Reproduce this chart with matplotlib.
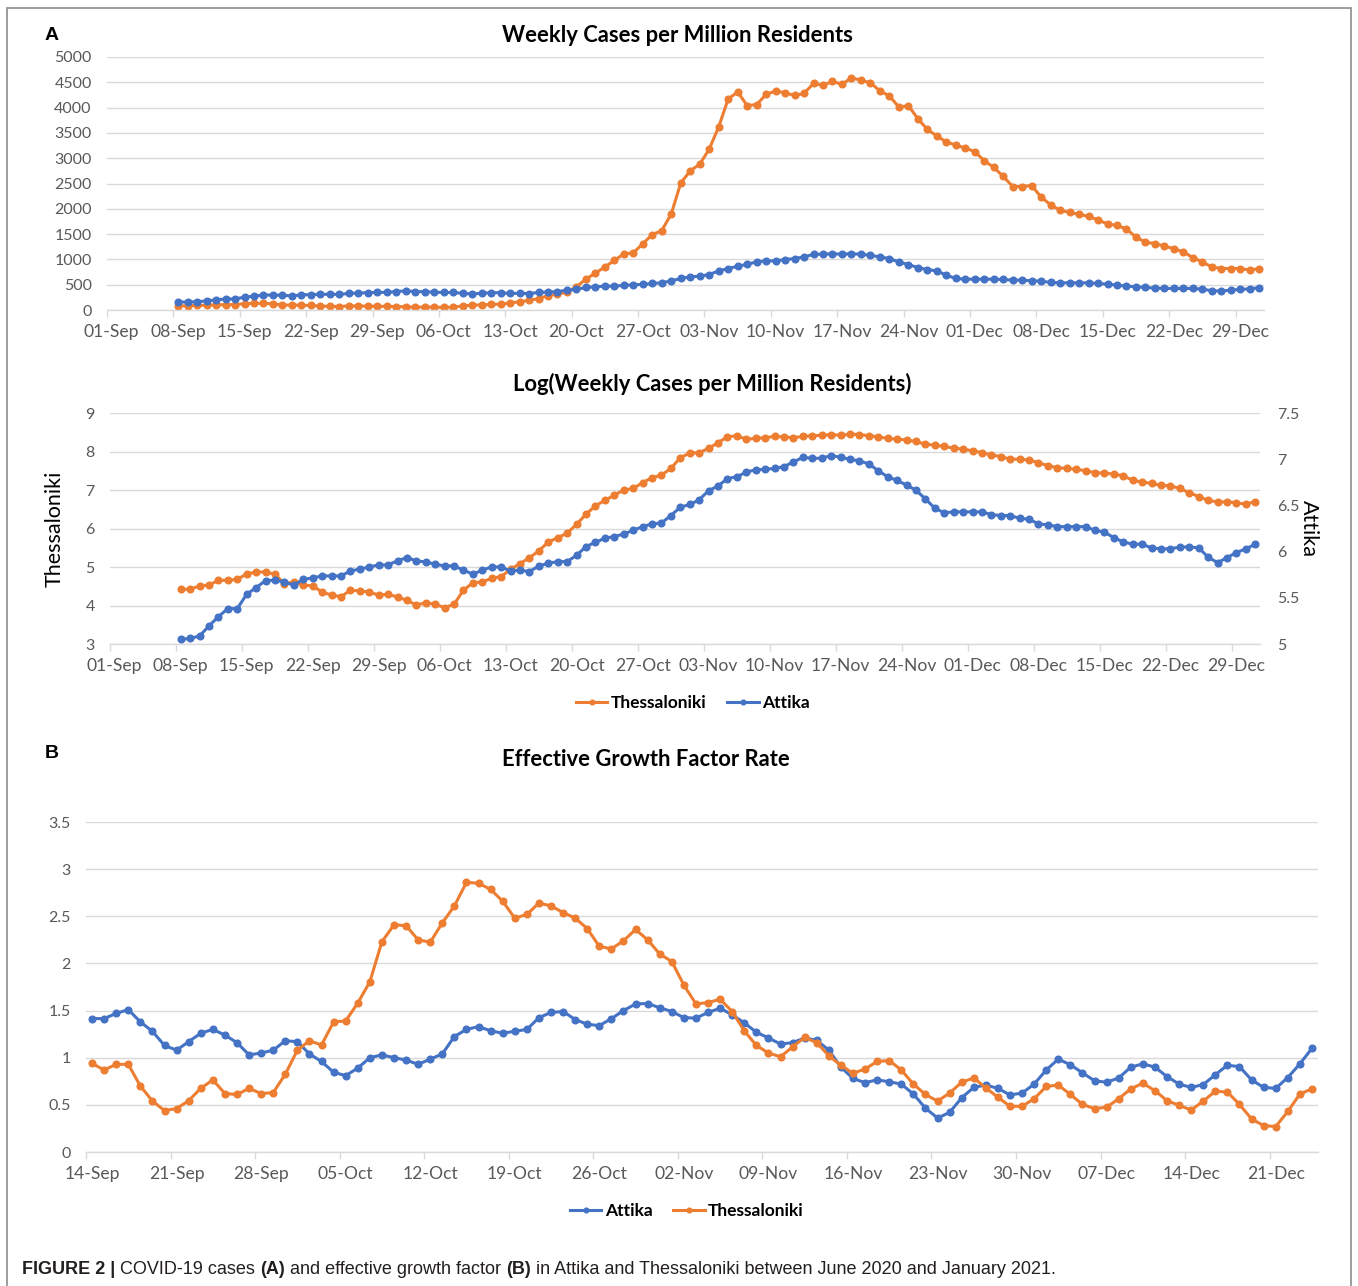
"""
COVID-19 weekly cases / log cases / effective growth factor,
Attika vs Thessaloniki (Sep-Dec 2020), rebuilt in matplotlib.
"""

import matplotlib
matplotlib.use("Agg")
import matplotlib.pyplot as plt
import matplotlib.dates as mdates
from matplotlib.patches import Rectangle
import pandas as pd

W, H = 1358, 1286

# ---------------------------------------------------------------- data
# panel A: one value per day, 08-Sep .. 31-Dec
dates_a = pd.date_range("2020-09-08", "2020-12-31", freq="D")
ticks_a = pd.date_range("2020-09-01", "2020-12-29", freq="7D")

thess_weekly = [
    83, 83, 91, 93, 105, 105, 108, 124, 130, 130, 123, 97, 100, 93, 91, 77, 72, 69, 81, 80,
    77, 72, 73, 68, 63, 55, 59, 56, 52, 56, 81, 98, 100, 111, 116, 140, 162, 189, 226, 284,
    317, 350, 460, 610, 730, 850, 980, 1110, 1130, 1310, 1490, 1570, 1900, 2510, 2750, 2880,
    3180, 3620, 4170, 4310, 4040, 4060, 4260, 4330, 4290, 4240, 4280, 4480, 4440, 4520, 4460,
    4590, 4540, 4490, 4330, 4230, 4010, 4040, 3780, 3570, 3440, 3320, 3260, 3200, 3130, 2950,
    2820, 2640, 2440, 2440, 2460, 2230, 2080, 1970, 1930, 1890, 1850, 1780, 1700, 1670, 1600,
    1440, 1340, 1310, 1265, 1210, 1150, 1035, 950, 850, 820, 820, 820, 790, 820,
]
attika_weekly = [
    156, 158, 162, 180, 200, 218, 218, 254, 273, 295, 296, 291, 280, 299, 304, 310, 310, 310,
    327, 334, 342, 349, 349, 365, 378, 365, 361, 352, 346, 346, 330, 316, 330, 342, 342, 327,
    330, 325, 346, 356, 362, 393, 406, 446, 459, 472, 472, 485, 498, 505, 524, 537, 577, 623,
    655, 668, 701, 773, 819, 865, 904, 950, 970, 970, 996, 1016, 1048, 1101, 1101, 1114, 1101,
    1114, 1101, 1081, 1048, 1016, 950, 898, 839, 799, 773, 688, 623, 609, 609, 609, 609, 603,
    590, 590, 577, 570, 544, 537, 537, 537, 537, 524, 511, 491, 472, 459, 446, 432, 426, 426,
    426, 426, 413, 380, 374, 393, 406, 419, 439,
]
thess_log = [
    4.42, 4.42, 4.51, 4.53, 4.655, 4.655, 4.68, 4.82, 4.87, 4.87, 4.81, 4.57, 4.61, 4.53, 4.51,
    4.35, 4.27, 4.23, 4.395, 4.38, 4.35, 4.27, 4.29, 4.22, 4.135, 4.01, 4.075, 4.03, 3.945, 4.03,
    4.40, 4.59, 4.61, 4.71, 4.75, 4.94, 5.09, 5.24, 5.42, 5.65, 5.76, 5.88, 6.11, 6.37, 6.59,
    6.73, 6.865, 7.00, 7.04, 7.19, 7.32, 7.385, 7.56, 7.84, 7.96, 7.97, 8.08, 8.23, 8.38, 8.41,
    8.32, 8.34, 8.36, 8.39, 8.38, 8.36, 8.39, 8.41, 8.42, 8.44, 8.42, 8.45, 8.44, 8.41, 8.38,
    8.34, 8.32, 8.30, 8.26, 8.19, 8.165, 8.13, 8.09, 8.06, 8.02, 7.97, 7.91, 7.87, 7.80, 7.80,
    7.78, 7.71, 7.63, 7.58, 7.56, 7.54, 7.50, 7.45, 7.44, 7.41, 7.37, 7.25, 7.21, 7.17, 7.12,
    7.11, 7.04, 6.93, 6.83, 6.73, 6.69, 6.69, 6.67, 6.63, 6.70,
]
attika_log = [
    5.05, 5.06, 5.087, 5.195, 5.296, 5.383, 5.383, 5.538, 5.61, 5.686, 5.69, 5.672, 5.636, 5.70,
    5.715, 5.737, 5.737, 5.737, 5.79, 5.81, 5.834, 5.856, 5.856, 5.90, 5.935, 5.90, 5.888, 5.863,
    5.845, 5.845, 5.80, 5.755, 5.80, 5.834, 5.834, 5.79, 5.798, 5.784, 5.845, 5.874, 5.892, 5.892,
    5.96, 6.055, 6.10, 6.145, 6.163, 6.19, 6.23, 6.27, 6.30, 6.31, 6.39, 6.48, 6.51, 6.56, 6.66,
    6.71, 6.79, 6.81, 6.86, 6.885, 6.89, 6.90, 6.92, 6.97, 7.02, 7.01, 7.01, 7.04, 7.02, 7.00,
    6.98, 6.95, 6.875, 6.81, 6.77, 6.72, 6.665, 6.57, 6.47, 6.42, 6.43, 6.43, 6.43, 6.43, 6.40,
    6.39, 6.39, 6.36, 6.35, 6.30, 6.29, 6.27, 6.27, 6.27, 6.27, 6.23, 6.21, 6.15, 6.105, 6.08,
    6.08, 6.04, 6.03, 6.03, 6.05, 6.05, 6.04, 5.94, 5.88, 5.935, 5.99, 6.03, 6.08,
]

# panel B: 14-Sep .. 24-Dec
dates_b = pd.date_range("2020-09-14", "2020-12-24", freq="D")
ticks_b = pd.date_range("2020-09-14", "2020-12-21", freq="7D")

attika_growth = [
    1.415, 1.415, 1.47, 1.51, 1.38, 1.28, 1.13, 1.08, 1.17, 1.26, 1.30, 1.24, 1.16, 1.03, 1.05,
    1.08, 1.18, 1.17, 1.04, 0.96, 0.845, 0.81, 0.89, 1.00, 1.03, 1.00, 0.975, 0.93, 0.985, 1.04,
    1.225, 1.30, 1.33, 1.285, 1.26, 1.28, 1.30, 1.425, 1.48, 1.49, 1.405, 1.355, 1.34, 1.415,
    1.50, 1.57, 1.575, 1.53, 1.49, 1.425, 1.42, 1.48, 1.525, 1.455, 1.37, 1.27, 1.21, 1.145,
    1.16, 1.21, 1.185, 1.08, 0.90, 0.78, 0.735, 0.765, 0.745, 0.72, 0.615, 0.465, 0.36, 0.42,
    0.575, 0.685, 0.71, 0.675, 0.605, 0.625, 0.72, 0.87, 0.985, 0.925, 0.84, 0.755, 0.74, 0.785,
    0.90, 0.935, 0.90, 0.80, 0.72, 0.685, 0.715, 0.82, 0.92, 0.905, 0.765, 0.685, 0.675, 0.79,
    0.935, 1.10,
]
thess_growth = [
    0.94, 0.87, 0.93, 0.93, 0.70, 0.54, 0.44, 0.46, 0.545, 0.675, 0.765, 0.62, 0.61, 0.675, 0.62,
    0.63, 0.825, 1.08, 1.18, 1.135, 1.38, 1.39, 1.58, 1.805, 2.23, 2.41, 2.40, 2.25, 2.225, 2.43,
    2.61, 2.86, 2.85, 2.785, 2.66, 2.48, 2.52, 2.64, 2.61, 2.54, 2.48, 2.37, 2.18, 2.155, 2.24,
    2.36, 2.25, 2.10, 2.02, 1.77, 1.57, 1.585, 1.62, 1.49, 1.285, 1.13, 1.05, 1.01, 1.115, 1.215,
    1.16, 1.02, 0.92, 0.835, 0.88, 0.96, 0.97, 0.87, 0.72, 0.61, 0.54, 0.625, 0.74, 0.785, 0.68,
    0.58, 0.485, 0.485, 0.565, 0.695, 0.71, 0.61, 0.505, 0.46, 0.475, 0.565, 0.67, 0.73, 0.65,
    0.545, 0.495, 0.445, 0.54, 0.645, 0.635, 0.505, 0.35, 0.28, 0.27, 0.43, 0.615, 0.67,
]

weekly_yticks = [0, 500, 1000, 1500, 2000, 2500, 3000, 3500, 4000, 4500, 5000]
log_left_yticks = [3, 4, 5, 6, 7, 8, 9]
log_right_yticks = [5, 5.5, 6, 6.5, 7, 7.5]
growth_yticks = [0, 0.5, 1, 1.5, 2, 2.5, 3, 3.5]

# ---------------------------------------------------------------- style
ORANGE = "#ED7D31"
BLUE = "#4472C4"
GRID = "#D9D9D9"
TICK = "#595959"
LINE = dict(lw=2.2, marker="o", ms=4.8)

plt.rcParams["font.family"] = ["Lato", "DejaVu Sans"]


def px_axes(fig, l, t, r, b):
    return fig.add_axes([l / W, 1 - b / H, (r - l) / W, (b - t) / H])


def ftext(fig, x, y, s, **kw):
    return fig.text(x / W, 1 - y / H, s, **kw)


def excel_style(ax, ticks, first, last, yticks, ylabels=None):
    half = pd.Timedelta(hours=12)
    ax.set_xlim(mdates.date2num(first - half), mdates.date2num(last + half))
    ax.set_xticks(mdates.date2num(ticks))
    ax.set_xticklabels([d.strftime("%d-%b") for d in ticks])
    ax.set_xticks(mdates.date2num(ticks - half), minor=True)
    ax.tick_params(axis="x", which="major", length=0, pad=10, labelsize=12.6, labelcolor=TICK)
    ax.tick_params(axis="x", which="minor", length=5, width=1, color=GRID)
    ax.set_ylim(yticks[0], yticks[-1])
    ax.set_yticks(yticks)
    if ylabels is not None:
        ax.set_yticklabels(ylabels)
    ax.tick_params(axis="y", length=0, pad=11, labelsize=11.5, labelcolor=TICK)
    ax.grid(axis="y", color=GRID, lw=1)
    ax.set_axisbelow(True)
    for side in ("top", "right", "left"):
        ax.spines[side].set_visible(False)
    ax.spines["bottom"].set_color(GRID)
    ax.spines["bottom"].set_linewidth(1)


fig = plt.figure(figsize=(W / 100, H / 100), dpi=100)

# ---------------------------------------------------------------- A: weekly cases
ax1 = px_axes(fig, 107, 57, 1264, 310)
ax1.plot(dates_a, thess_weekly, color=ORANGE, **LINE)
ax1.plot(dates_a, attika_weekly, color=BLUE, **LINE)
excel_style(ax1, ticks_a, ticks_a[0], dates_a[-1], weekly_yticks)
ftext(fig, 677, 36, "Weekly Cases per Million Residents", ha="center", va="center",
      fontsize=15.8, fontweight="bold")
ftext(fig, 52, 36, "A", ha="center", va="center", fontsize=14, fontweight="bold",
      family="Liberation Sans")

# ---------------------------------------------------------------- A: log cases
ax2 = px_axes(fig, 110, 413, 1260, 644)
l_th, = ax2.plot(dates_a, thess_log, color=ORANGE, **LINE)
excel_style(ax2, ticks_a, ticks_a[0], dates_a[-1], log_left_yticks)
ax2.set_ylabel("Thessaloniki", fontsize=15.5, labelpad=15)

ax2r = ax2.twinx()
l_at, = ax2r.plot(dates_a, attika_log, color=BLUE, **LINE)
ax2r.set_ylim(log_right_yticks[0], log_right_yticks[-1])
ax2r.set_yticks(log_right_yticks)
ax2r.set_yticklabels(["5", "5.5", "6", "6.5", "7", "7.5"])
ax2r.tick_params(axis="y", length=0, pad=12, labelsize=11.5, labelcolor=TICK)
for side in ("top", "right", "left", "bottom"):
    ax2r.spines[side].set_visible(False)
ax2r.set_ylabel("Attika", fontsize=15.5, rotation=270, labelpad=0, va="bottom")

ftext(fig, 712, 384, "Log(Weekly Cases per Million Residents)", ha="center", va="center",
      fontsize=15.8, fontweight="bold")
fig.legend([l_th, l_at], ["Thessaloniki", "Attika"], loc="center",
           bbox_to_anchor=(693 / W, 1 - 703 / H), ncol=2, frameon=False,
           prop={"weight": "bold", "size": 12.5}, handlelength=1.8,
           handletextpad=0.2, columnspacing=1.2, markerscale=0.7)

# ---------------------------------------------------------------- B: growth factor
ax3 = px_axes(fig, 86, 822, 1318, 1152)
b_at, = ax3.plot(dates_b, attika_growth, color=BLUE, **LINE)
b_th, = ax3.plot(dates_b, thess_growth, color=ORANGE, **LINE)
excel_style(ax3, ticks_b, dates_b[0], dates_b[-1], growth_yticks,
            ["0", "0.5", "1", "1.5", "2", "2.5", "3", "3.5"])
ftext(fig, 646, 760, "Effective Growth Factor Rate", ha="center", va="center",
      fontsize=15.8, fontweight="bold")
ftext(fig, 52, 754, "B", ha="center", va="center", fontsize=14, fontweight="bold",
      family="Liberation Sans")
fig.legend([b_at, b_th], ["Attika", "Thessaloniki"], loc="center",
           bbox_to_anchor=(687 / W, 1 - 1211 / H), ncol=2, frameon=False,
           prop={"weight": "bold", "size": 12.5}, handlelength=1.8,
           handletextpad=0.2, columnspacing=1.2, markerscale=0.7)

# ---------------------------------------------------------------- frame + caption
fig.add_artist(Rectangle((7 / W, -0.05), (1351 - 7) / W, 1.05 - 8 / H,
                         transform=fig.transFigure, fill=False,
                         edgecolor="#8C8C8C", lw=1.2))

caption = [
    ("FIGURE 2 |", "bold"),
    (" COVID-19 cases ", "normal"),
    ("(A)", "bold"),
    (" and effective growth factor ", "normal"),
    ("(B)", "bold"),
    (" in Attika and Thessaloniki between June 2020 and January 2021.", "normal"),
]
renderer = fig.canvas.get_renderer()
cur = 22
for s, weight in caption:
    t = ftext(fig, cur, 1269, s, ha="left", va="center", fontsize=13.0, fontweight=weight,
              family=["Liberation Sans Narrow", "Liberation Sans"], color="#231F20")
    cur += t.get_window_extent(renderer).width

fig.savefig("out.png", dpi=100, facecolor="white")
